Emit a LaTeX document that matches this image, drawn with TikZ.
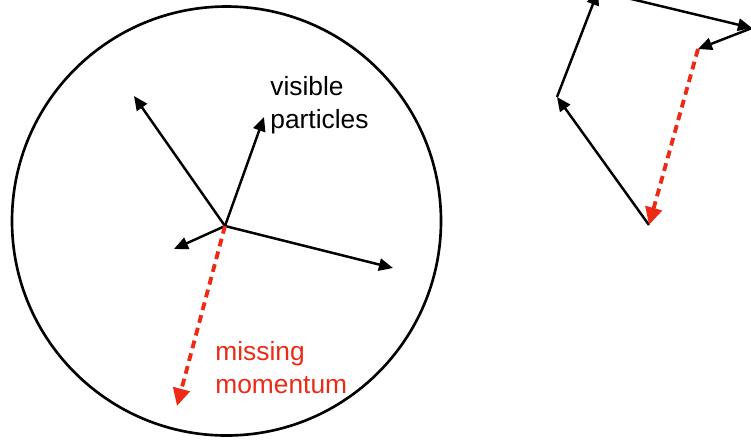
\documentclass[tikz,border=0pt]{standalone}
\usepackage{fontspec}
\setsansfont{Liberation Sans}
\usepackage{xcolor}
\definecolor{mmred}{RGB}{236,42,22}
\usetikzlibrary{arrows.meta}

\begin{document}
\begin{tikzpicture}[x=0.02cm,y=-0.02cm,
  vec/.style={line width=1.4pt,-{Triangle[length=8pt,width=7pt]}},
  miss/.style={mmred,line width=2.2pt,dash pattern=on 4.5pt off 3pt,-{Triangle[length=10pt,width=9.5pt]}},
  lbl/.style={font=\sffamily\fontsize{15}{18.5}\selectfont,align=left,inner sep=0pt}]
  \useasboundingbox (0,0) rectangle (751,441);
  \clip (0,0) rectangle (751,441);
  % Detector
  \draw[line width=1.5pt] (226.5,221) circle[radius=214.5];
  % Event: visible particles
  \coordinate (o) at (225,226);
  \coordinate (a) at (134,96);
  \coordinate (b) at (264,117);
  \coordinate (c) at (174,249);
  \coordinate (d) at (393,268);
  \coordinate (m) at (177,406);
  \draw[vec] (o) -- (a);
  \draw[vec] (o) -- (b);
  \draw[vec] (o) -- (c);
  \draw[vec] (o) -- (d);
  \draw[miss] (o) -- (m);
  \node[lbl,anchor=base west] (vis) at (270,128) {visible\\particles};
  \node[lbl,anchor=base west,mmred] (mis) at (215,393) {missing\\momentum};
  % Vector sum
  \coordinate (q0) at (649,225);
  \coordinate (q1) at (557,97);
  \coordinate (q2) at (598,-9);
  \coordinate (q3) at (752,28);
  \coordinate (q4) at (698,49);
  \draw[vec] (q0) -- (q1);
  \draw[vec] (q1) -- (q2);
  \draw[vec] (q2) -- (q3);
  \draw[vec] (q3) -- (q4);
  \draw[miss] (q4) -- (q0);
\end{tikzpicture}
\end{document}
